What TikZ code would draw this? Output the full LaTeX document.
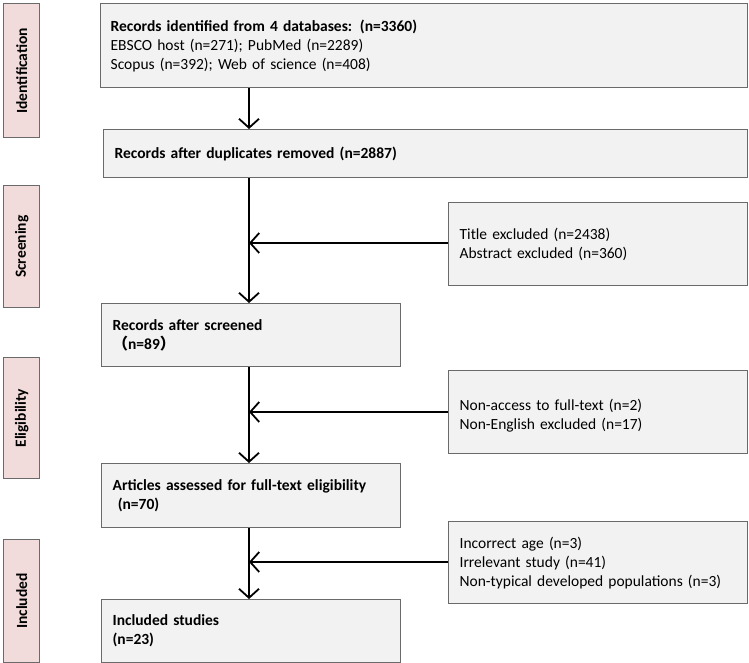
\documentclass[tikz,border=0pt]{standalone}
\usepackage{fontspec}
\setmainfont{Carlito}
\newfontfamily\cjk{Noto Sans CJK SC}
\usetikzlibrary{arrows.meta}
\definecolor{boxfill}{HTML}{F2F2F2}
\definecolor{boxline}{HTML}{6A6A6A}
\definecolor{phasefill}{HTML}{F2DCDB}
\begin{document}
\begin{tikzpicture}[x=1pt,y=-1pt,
  box/.style={draw=boxline,fill=boxfill,line width=1.3pt,inner xsep=11pt,inner ysep=0pt,
    align=left,font=\fontsize{15.5}{19}\selectfont,anchor=north west},
  phase/.style={draw=boxline,fill=phasefill,line width=1.3pt,anchor=north west,
    minimum width=36pt,inner sep=0pt},
  phasetext/.style={rotate=90,font=\fontsize{15.5}{17}\selectfont\bfseries},
  flow/.style={line width=1.8pt,-{Straight Barb[length=9pt,width=20pt,line width=1.8pt]}}]
\useasboundingbox (0,0) rectangle (749,663);
% phases
\node[phase,minimum height=134pt] (p1) at (3,3) {};
\node[phasetext] at (p1.center) {Identification};
\node[phase,minimum height=122pt] (p2) at (3,185) {};
\node[phasetext] at (p2.center) {Screening};
\node[phase,minimum height=121pt] (p3) at (3,357) {};
\node[phasetext] at (p3.center) {Eligibility};
\node[phase,minimum height=123pt] (p4) at (3,539) {};
\node[phasetext] at (p4.center) {Included};
% main boxes
\node[box,minimum width=647pt,minimum height=84pt,text width=627pt,inner xsep=10pt] (b1) at (100,3)
  {\textbf{Records identified from 4 databases: (n=3360)}\\EBSCO host (n=271); PubMed (n=2289)\\Scopus (n=392); Web of science (n=408)};
\node[box,minimum width=644pt,minimum height=48pt,text width=622pt] (b2) at (103,129)
  {\textbf{Records after duplicates removed (n=2887)}};
\node[box,minimum width=299pt,minimum height=63pt,text width=277pt] (b3) at (101,303)
  {\textbf{Records after screened}\\\textbf{{\cjk （}n=89{\cjk ）}}};
\node[box,minimum width=299pt,minimum height=64pt,text width=277pt] (b4) at (101,463)
  {\textbf{Articles assessed for full-text eligibility}\\\textbf{\ (n=70)}};
\node[box,minimum width=299pt,minimum height=63pt,text width=277pt] (b5) at (101,599)
  {\textbf{Included studies}\\\textbf{(n=23)}};
% exclusion boxes
\node[box,minimum width=299pt,minimum height=83pt,text width=277pt] (e1) at (448,202)
  {Title excluded (n=2438)\\Abstract excluded (n=360)};
\node[box,minimum width=299pt,minimum height=83pt,text width=277pt] (e2) at (448,370)
  {\mbox{}\\Non-access to full-text (n=2)\\Non-English excluded (n=17)};
\node[box,minimum width=299pt,minimum height=82pt,text width=277pt] (e3) at (448,521)
  {Incorrect age (n=3)\\Irrelevant study (n=41)\\Non-typical developed populations (n=3)};
% junctions
\coordinate (j1) at (249,243);
\coordinate (j2) at (249,412);
\coordinate (j3) at (249,562);
% connectors
\draw[flow] (b1.south -| j1) -- (b2.north -| j1);
\draw[flow] (b2.south -| j1) -- (b3.north -| j1);
\draw[flow] (b3.south -| j1) -- (b4.north -| j1);
\draw[flow] (b4.south -| j1) -- (b5.north -| j1);
\draw[flow] (e1.west |- j1) -- (j1);
\draw[flow] (e2.west |- j2) -- (j2);
\draw[flow] (e3.west |- j3) -- (j3);
\end{tikzpicture}
\end{document}
